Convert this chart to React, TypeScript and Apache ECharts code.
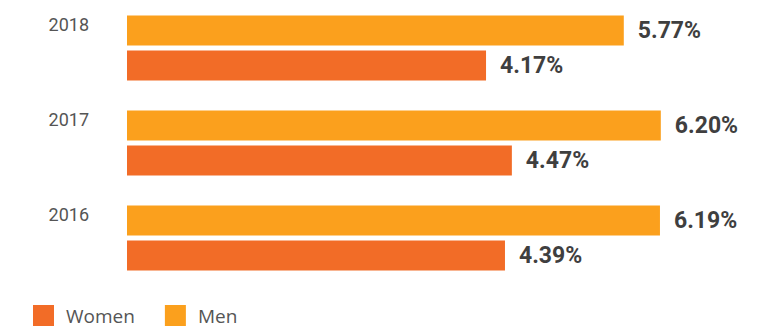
import React, { useEffect, useRef } from "react";
import * as echarts from "echarts";

const years = ["2018", "2017", "2016"];
const menValues = [5.77, 6.2, 6.19];
const womenValues = [4.17, 4.47, 4.39];
const legendLabels = ["Women", "Men"];

export default function App() {
  const ref = useRef<HTMLDivElement>(null);
  useEffect(() => {
    const chart = echarts.init(ref.current!, null, { renderer: "svg" });
    const labelStyle = {
      show: true,
      position: "right" as const,
      distance: 14,
      fontFamily: "Roboto",
      fontWeight: "bold" as const,
      fontSize: 23,
      color: "#3f3f3f",
      formatter: (p: any) => Number(p.value).toFixed(2) + "%",
    };
    chart.setOption({
      animation: false,
      grid: { left: 127, top: 43.3, width: 602.7, height: 194.8 },
      xAxis: {
        type: "value",
        min: 0,
        max: 7,
        show: false,
      },
      yAxis: {
        type: "category",
        data: years,
        inverse: true,
        boundaryGap: false,
        axisLine: { show: false },
        axisTick: { show: false },
        splitLine: { show: false },
        axisLabel: {
          fontFamily: "Roboto",
          fontSize: 18,
          color: "#555555",
          margin: 38,
          align: "right",
          verticalAlign: "bottom",
          lineHeight: 48,
        },
      },
      legend: {
        data: legendLabels,
        left: 33,
        top: 305,
        padding: 0,
        itemWidth: 21,
        itemHeight: 21,
        itemGap: 30,
        icon: "rect",
        textStyle: {
          fontFamily: "Open Sans",
          fontSize: 19,
          color: "#555555",
          padding: [0, 0, 0, 7],
        },
      },
      series: [
        {
          name: "Men",
          type: "bar",
          data: menValues,
          barWidth: 30,
          barGap: "16.7%",
          clip: false,
          itemStyle: { color: "#FBA01D" },
          label: labelStyle,
        },
        {
          name: "Women",
          type: "bar",
          data: womenValues,
          barWidth: 30,
          barGap: "16.7%",
          clip: false,
          itemStyle: { color: "#F26C27" },
          label: labelStyle,
        },
      ],
    });
    return () => chart.dispose();
  }, []);
  return (
    <div
      ref={ref}
      style={{ position: "absolute", left: 0, top: 0, width: 773, height: 331 }}
    />
  );
}
